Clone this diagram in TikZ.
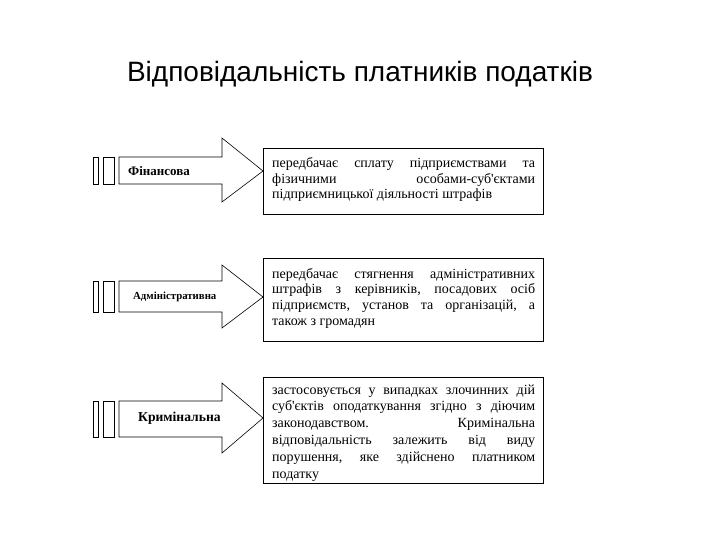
\documentclass[tikz,border=0pt]{standalone}
\usepackage{fontspec}
\setmainfont{Liberation Serif}
\newfontfamily\titlefont{Liberation Sans}
\newcommand\jline[1]{\hbox to 263pt{#1}}
\begin{document}
\begin{tikzpicture}[x=1pt,y=-1pt,
  bar/.style={draw,line width=0.8pt,fill=white},
  arr/.style={draw,line width=0.6pt,fill=white},
  txtbox/.style={draw,line width=1pt,rectangle,anchor=north west,inner sep=0pt,minimum width=280pt},
  btext/.style={font=\fontsize{14}{17}\selectfont,anchor=base west,inner sep=0pt},
  lbl/.style={anchor=west,inner sep=0pt}]
\useasboundingbox (0,0) rectangle (720,540);
\node[font=\titlefont\fontsize{28}{30}\selectfont,anchor=base] (title) at (360,82) {Відповідальність платників податків};

% arrow 1
\draw[bar] (93,157) rectangle (98,184);
\draw[bar] (103,157) rectangle (114,184);
\draw[arr] (119,157) -- (222,157) -- (222,138) -- (263,171) -- (222,202) -- (222,184) -- (119,184) -- cycle;
\node[lbl,font=\bfseries\fontsize{13}{15}\selectfont] (l1) at (128,171) {Фінансова};
\node[txtbox,minimum height=66pt] (b1) at (263,148) {};
\node[btext] (t1) at (272,168) {\parbox[t]{263pt}{\baselineskip=15.2pt
\jline{передбачає\hfill сплату\hfill підприємствами\hfill та}
\jline{фізичними\hfill особами-суб\textquotesingle єктами}
\hbox{підприємницької діяльності штрафів}}};

% arrow 2
\draw[bar] (93,281) rectangle (98,312);
\draw[bar] (103,281) rectangle (114,312);
\draw[arr] (119,281) -- (222,281) -- (222,265) -- (263,297) -- (222,328) -- (222,312) -- (119,312) -- cycle;
\node[lbl,font=\bfseries\fontsize{10.8}{12}\selectfont] (l2) at (133,297) {Адміністративна};
\node[txtbox,minimum height=83pt] (b2) at (263,258) {};
\node[btext] (t2) at (272,278) {\parbox[t]{263pt}{\baselineskip=15.8pt
\jline{передбачає\hfill стягнення\hfill адміністративних}
\jline{штрафів\hfill з\hfill керівників,\hfill посадових\hfill осіб}
\jline{підприємств,\hfill установ\hfill та\hfill організацій,\hfill а}
\hbox{також з громадян}}};

% arrow 3
\draw[bar] (93,401) rectangle (98,437);
\draw[bar] (103,401) rectangle (114,437);
\draw[arr] (119,401) -- (222,401) -- (222,383) -- (263,418) -- (222,453) -- (222,437) -- (119,437) -- cycle;
\node[lbl,font=\bfseries\fontsize{13.6}{15}\selectfont] (l3) at (138,418) {Кримінальна};
\node[txtbox,minimum height=106pt] (b3) at (263,377) {};
\node[btext] (t3) at (272,394) {\parbox[t]{263pt}{\baselineskip=16.8pt
\jline{застосовується\hfill у\hfill випадках\hfill злочинних\hfill дій}
\jline{суб\textquotesingle єктів\hfill оподаткування\hfill згідно\hfill з\hfill діючим}
\jline{законодавством.\hfill Кримінальна}
\jline{відповідальність\hfill залежить\hfill від\hfill виду}
\jline{порушення,\hfill яке\hfill здійснено\hfill платником}
\hbox{податку}}};
\end{tikzpicture}
\end{document}
